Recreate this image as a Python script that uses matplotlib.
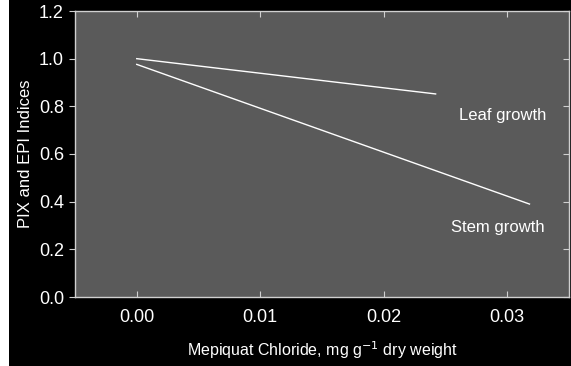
import matplotlib
matplotlib.use("Agg")
import matplotlib.pyplot as plt
from matplotlib.patches import Rectangle

plt.rcParams['font.family'] = ['Liberation Sans', 'DejaVu Sans']
plt.rcParams['mathtext.fontset'] = 'custom'
plt.rcParams['mathtext.rm'] = 'Liberation Sans'
plt.rcParams['mathtext.it'] = 'Liberation Sans'
plt.rcParams['mathtext.default'] = 'rm'

# Data
leaf_x = [0.0, 0.0242]
leaf_y = [1.0, 0.852]
stem_x = [0.0, 0.0318]
stem_y = [0.976, 0.39]
xticks = [0.00, 0.01, 0.02, 0.03]
xtick_labels = ["0.00", "0.01", "0.02", "0.03"]
yticks = [0.0, 0.2, 0.4, 0.6, 0.8, 1.0, 1.2]
ytick_labels = ["0.0", "0.2", "0.4", "0.6", "0.8", "1.0", "1.2"]
labels = ["Leaf growth", "Stem growth"]

W, H = 571, 366
fig = plt.figure(figsize=(W / 100, H / 100), dpi=100, facecolor='black')
ax = fig.add_axes([75 / W, 1 - 297 / H, (569 - 75) / W, (297 - 11) / H])
ax.set_facecolor('#5a5a5a')
fig.patches.append(Rectangle((0, 0), 8.5 / W, 1, transform=fig.transFigure,
                             facecolor='white', edgecolor='none', zorder=-1))

ax.plot(leaf_x, leaf_y, color='white', lw=1.0)
ax.plot(stem_x, stem_y, color='white', lw=1.0)

ax.text(0.0296, 0.76, labels[0], color='white', fontsize=12, ha='center', va='center')
ax.text(0.0292, 0.29, labels[1], color='white', fontsize=12, ha='center', va='center')

ax.set_xlim(-0.005, 0.035)
ax.set_ylim(0, 1.2)
ax.set_xticks(xticks)
ax.set_xticklabels(xtick_labels)
ax.set_yticks(yticks)
ax.set_yticklabels(ytick_labels)

for s in ax.spines.values():
    s.set_color('#d0d0d0')
    s.set_linewidth(1.0)

ax.tick_params(axis='x', direction='in', top=True, bottom=True, colors='#d0d0d0',
               labelcolor='white', labelsize=13, length=4, pad=9)
ax.tick_params(axis='y', which='both', left=True, right=True, direction='out',
               colors='#d0d0d0', labelcolor='white', labelsize=13, length=4, pad=4)
# right ticks inward
for t in ax.yaxis.get_major_ticks():
    t.tick2line.set_marker(matplotlib.lines.TICKLEFT)

ax.set_xlabel("Mepiquat Chloride, mg g$^{\\mathsf{-1}}$ dry weight", color='white',
              fontsize=11.5, labelpad=9)
ax.set_ylabel("PIX and EPI Indices", color='white', fontsize=12, labelpad=4)

fig.savefig("out.png", dpi=100, facecolor=fig.get_facecolor())
